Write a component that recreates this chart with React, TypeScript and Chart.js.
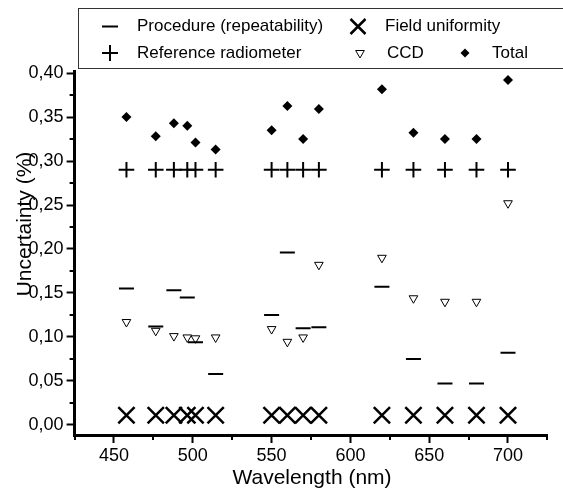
import React, { useEffect, useRef } from 'react';
import { Chart, registerables } from 'chart.js';

Chart.register(...registerables);

const FONT = "'Liberation Sans', Arial, Helvetica, sans-serif";

// Wavelengths (nm)
const wavelengths = [457.9, 476.5, 488, 496.5, 501.7, 514.5, 550, 560, 570, 580, 620, 640, 660, 680, 700];
// Uncertainty components (%)
const procedure = [0.155, 0.112, 0.153, 0.145, 0.094, 0.058, 0.125, 0.196, 0.110, 0.111, 0.157, 0.075, 0.047, 0.047, 0.082];
const fieldUniformity = [0.011, 0.011, 0.011, 0.011, 0.011, 0.011, 0.011, 0.011, 0.011, 0.011, 0.011, 0.011, 0.011, 0.011, 0.011];
const referenceRadiometer = [0.29, 0.29, 0.29, 0.29, 0.29, 0.29, 0.29, 0.29, 0.29, 0.29, 0.29, 0.29, 0.29, 0.29, 0.29];
const ccd = [0.117, 0.107, 0.101, 0.0995, 0.0985, 0.0995, 0.109, 0.0945, 0.0995, 0.182, 0.190, 0.144, 0.140, 0.140, 0.252];
const total = [0.350, 0.328, 0.343, 0.340, 0.321, 0.313, 0.335, 0.3625, 0.325, 0.359, 0.3815, 0.332, 0.325, 0.325, 0.392];

// Axis ticks
const xMajorTicks = [450, 500, 550, 600, 650, 700];
const xMinorTicks = [425, 475, 525, 575, 625, 675, 725];
const yMajorTicks = [0, 0.05, 0.1, 0.15, 0.2, 0.25, 0.3, 0.35, 0.4];
const yMinorTicks = [0.025, 0.075, 0.125, 0.175, 0.225, 0.275, 0.325, 0.375];

const xTitle = 'Wavelength (nm)';
const yTitle = 'Uncertainty (%)';

const seriesNames = ['Procedure (repeatability)', 'Field uniformity', 'Reference radiometer', 'CCD', 'Total'];

function toPoints(values: number[]) {
  return wavelengths.map((w, i) => ({ x: w, y: values[i] }));
}

function drawSymbol(ctx: CanvasRenderingContext2D, kind: string, x: number, y: number) {
  ctx.save();
  ctx.strokeStyle = '#000';
  ctx.fillStyle = '#000';
  ctx.beginPath();
  if (kind === 'line') {
    ctx.lineWidth = 2;
    ctx.moveTo(x - 8, y);
    ctx.lineTo(x + 8, y);
    ctx.stroke();
  } else if (kind === 'cross') {
    ctx.lineWidth = 2;
    ctx.moveTo(x - 8, y);
    ctx.lineTo(x + 8, y);
    ctx.moveTo(x, y - 8);
    ctx.lineTo(x, y + 8);
    ctx.stroke();
  } else if (kind === 'crossRot') {
    ctx.lineWidth = 2.5;
    const d = 7.5;
    ctx.moveTo(x - d, y - d);
    ctx.lineTo(x + d, y + d);
    ctx.moveTo(x + d, y - d);
    ctx.lineTo(x - d, y + d);
    ctx.stroke();
  } else if (kind === 'triangleDown') {
    ctx.lineWidth = 1;
    const r = 5;
    ctx.moveTo(x, y + r);
    ctx.lineTo(x - r * 0.866, y - r / 2);
    ctx.lineTo(x + r * 0.866, y - r / 2);
    ctx.closePath();
    ctx.fillStyle = '#fff';
    ctx.fill();
    ctx.stroke();
  } else if (kind === 'diamond') {
    const r = 4.5;
    ctx.moveTo(x, y - r);
    ctx.lineTo(x + r, y);
    ctx.lineTo(x, y + r);
    ctx.lineTo(x - r, y);
    ctx.closePath();
    ctx.fill();
  }
  ctx.restore();
}

const decorPlugin = {
  id: 'decor',
  afterDraw(chart: any) {
    const ctx: CanvasRenderingContext2D = chart.ctx;
    const xs = chart.scales.x;
    const ys = chart.scales.y;
    const area = chart.chartArea;

    // Minor ticks
    ctx.save();
    ctx.strokeStyle = '#000';
    ctx.lineWidth = 2;
    ctx.beginPath();
    yMinorTicks.forEach((v) => {
      const py = Math.round(ys.getPixelForValue(v));
      ctx.moveTo(area.left - 5, py);
      ctx.lineTo(area.left, py);
    });
    xMinorTicks.forEach((v) => {
      const px = Math.round(xs.getPixelForValue(v));
      ctx.moveTo(px, area.bottom);
      ctx.lineTo(px, area.bottom + 5);
    });
    ctx.stroke();
    ctx.restore();

    // Axis titles
    ctx.save();
    ctx.fillStyle = '#000';
    ctx.font = `21px ${FONT}`;
    ctx.textAlign = 'center';
    ctx.textBaseline = 'middle';
    ctx.fillText(xTitle, (area.left + area.right) / 2 + 1, 478);
    ctx.translate(25, 224);
    ctx.rotate(-Math.PI / 2);
    ctx.fillText(yTitle, 0, 0);
    ctx.restore();

    // Legend box
    ctx.save();
    ctx.fillStyle = '#fff';
    ctx.fillRect(78, 8, 500, 60);
    ctx.strokeStyle = '#333';
    ctx.lineWidth = 1;
    ctx.strokeRect(78.5, 8.5, 500, 60);
    ctx.fillStyle = '#000';
    ctx.font = `17px ${FONT}`;
    ctx.textAlign = 'left';
    ctx.textBaseline = 'middle';
    const row1 = 26.5;
    const row2 = 53;
    drawSymbol(ctx, 'line', 110, row1);
    ctx.fillText(seriesNames[0], 137, row1);
    drawSymbol(ctx, 'crossRot', 358, row1);
    ctx.fillText(seriesNames[1], 385, row1);
    drawSymbol(ctx, 'cross', 110, row2);
    ctx.fillText(seriesNames[2], 137, row2);
    drawSymbol(ctx, 'triangleDown', 360, row2);
    ctx.fillText(seriesNames[3], 387, row2);
    drawSymbol(ctx, 'diamond', 465, row2);
    ctx.fillText(seriesNames[4], 492, row2);
    ctx.restore();
  },
};

export default function App() {
  const canvasRef = useRef<HTMLCanvasElement | null>(null);

  useEffect(() => {
    const canvas = canvasRef.current;
    if (!canvas) return;
    const chart = new Chart(canvas, {
      type: 'scatter',
      data: {
        datasets: [
          {
            label: seriesNames[0],
            data: toPoints(procedure),
            pointStyle: 'line',
            pointRadius: 7.5,
            pointBorderWidth: 2,
            pointBorderColor: '#000',
            pointBackgroundColor: '#000',
            showLine: false,
          },
          {
            label: seriesNames[1],
            data: toPoints(fieldUniformity),
            pointStyle: 'crossRot',
            pointRadius: 11.5,
            pointBorderWidth: 2.5,
            pointBorderColor: '#000',
            pointBackgroundColor: '#000',
            showLine: false,
          },
          {
            label: seriesNames[2],
            data: toPoints(referenceRadiometer),
            pointStyle: 'cross',
            pointRadius: 7.8,
            pointBorderWidth: 2,
            pointBorderColor: '#000',
            pointBackgroundColor: '#000',
            showLine: false,
          },
          {
            label: seriesNames[3],
            data: toPoints(ccd),
            pointStyle: 'triangle',
            rotation: 180,
            pointRotation: 180,
            pointRadius: 5,
            pointBorderWidth: 1,
            pointBorderColor: '#000',
            pointBackgroundColor: '#fff',
            showLine: false,
          } as any,
          {
            label: seriesNames[4],
            data: toPoints(total),
            pointStyle: 'rectRot',
            pointRadius: 5,
            pointBorderWidth: 0,
            pointBorderColor: '#000',
            pointBackgroundColor: '#000',
            showLine: false,
          },
        ],
      },
      options: {
        animation: false,
        responsive: false,
        devicePixelRatio: 1,
        layout: { padding: { top: 71, right: 15.6, left: 0, bottom: 0 } },
        plugins: {
          legend: { display: false },
          tooltip: { enabled: false },
        },
        scales: {
          x: {
            type: 'linear',
            min: 425,
            max: 725,
            afterBuildTicks: (s: any) => {
              s.ticks = xMajorTicks.map((v) => ({ value: v }));
            },
            afterFit: (s: any) => {
              s.height = 63;
            },
            grid: {
              display: true,
              drawOnChartArea: false,
              drawTicks: true,
              tickLength: 8,
              tickWidth: 2,
              tickColor: '#000',
            },
            border: { display: true, width: 3, color: '#000' },
            ticks: {
              color: '#000',
              font: { size: 18, family: FONT },
              padding: 2,
              maxRotation: 0,
              autoSkip: false,
              callback: (v: any) => String(v),
            },
          },
          y: {
            type: 'linear',
            min: -0.0114,
            max: 0.4023,
            afterBuildTicks: (s: any) => {
              s.ticks = yMajorTicks.map((v) => ({ value: v }));
            },
            afterFit: (s: any) => {
              s.width = 74.6;
            },
            grid: {
              display: true,
              drawOnChartArea: false,
              drawTicks: true,
              tickLength: 8,
              tickWidth: 2,
              tickColor: '#000',
            },
            border: { display: true, width: 3, color: '#000' },
            ticks: {
              color: '#000',
              font: { size: 18, family: FONT },
              padding: 3,
              autoSkip: false,
              callback: (v: any) => Number(v).toFixed(2).replace('.', ','),
            },
          },
        },
      },
      plugins: [decorPlugin],
    });
    return () => chart.destroy();
  }, []);

  return (
    <div style={{ position: 'absolute', left: 0, top: 0, width: 563, height: 498, background: '#fff' }}>
      <canvas ref={canvasRef} width={563} height={498} style={{ display: 'block', width: 563, height: 498 }} />
    </div>
  );
}
